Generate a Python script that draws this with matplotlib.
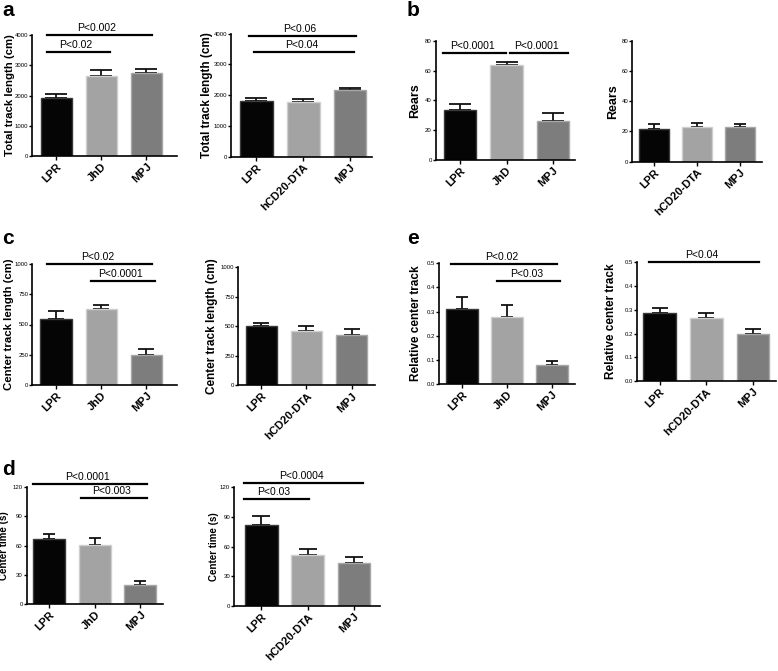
import matplotlib.pyplot as plt

plt.rcParams['font.family'] = ['Liberation Sans Narrow', 'Liberation Sans', 'DejaVu Sans']

# Data
cats_jhd = ["LPR", "JhD", "MPJ"]
cats_dta = ["LPR", "hCD20-DTA", "MPJ"]

total_jhd = [1930, 2645, 2755]
total_jhd_err = [130, 200, 135]
total_dta = [1810, 1770, 2170]
total_dta_err = [90, 105, 55]

rears_jhd = [33.5, 63.5, 26.4]
rears_jhd_err = [3.8, 2.3, 4.9]
rears_dta = [21.4, 23.1, 22.9]
rears_dta_err = [3.5, 2.7, 2.0]

center_len_jhd = [545, 625, 245]
center_len_jhd_err = [69, 36, 50]
center_len_dta = [505, 460, 426]
center_len_dta_err = [25, 42, 54]

rel_center_jhd = [0.311, 0.276, 0.080]
rel_center_jhd_err = [0.051, 0.050, 0.014]
rel_center_dta = [0.288, 0.264, 0.198]
rel_center_dta_err = [0.018, 0.021, 0.022]

center_time_jhd = [66.8, 60.9, 19.0]
center_time_jhd_err = [5.1, 7.2, 4.7]
center_time_dta = [81.6, 51.3, 43.2]
center_time_dta_err = [9.4, 6.0, 6.0]

# significance bars: (x start, x end, y, label)
sig_a1 = [(-0.21, 2.12, 4000, "P<0.002"), (-0.21, 1.19, 3440, "P<0.02")]
sig_a2 = [(-0.16, 2.13, 3930, "P<0.06"), (-0.04, 2.09, 3415, "P<0.04")]
sig_b1 = [(-0.37, 0.99, 72, "P<0.0001"), (1.07, 2.33, 72, "P<0.0001")]
sig_c1 = [(-0.21, 2.13, 1000, "P<0.02"), (0.76, 2.19, 862, "P<0.0001")]
sig_e1 = [(-0.24, 2.10, 0.497, "P<0.02"), (0.78, 2.18, 0.428, "P<0.03")]
sig_e2 = [(-0.23, 2.13, 0.5, "P<0.04")]
sig_d1 = [(-0.35, 2.14, 123.7, "P<0.0001"), (0.70, 2.14, 109, "P<0.003")]
sig_d2 = [(-0.37, 2.19, 124, "P<0.0004"), (-0.37, 1.02, 108.2, "P<0.03")]

W, H = 778, 671
fig = plt.figure(figsize=(W / 100, H / 100), dpi=100)

face = ["#050505", "#a3a3a3", "#7d7d7d"]
edge = ["#3a3a3a", "#cfcfcf", "#a8a8a8"]


def panel(box, xlim, cats, vals, errs, ylim, yticks, ylabel, sigs, lab_size, lab_x,
          tickfmt="{:g}", capsize=6):
    left, right, top, bottom = box
    ax = fig.add_axes([left / W, 1 - bottom / H, (right - left) / W, (bottom - top) / H])
    x = list(range(len(cats)))
    ax.bar(x, vals, width=0.7, color=face, edgecolor=edge, linewidth=1, zorder=2)
    ax.errorbar(x, vals, yerr=[[0] * len(vals), errs], fmt="none", ecolor="#111111",
                elinewidth=1.3, capsize=capsize, capthick=1.3, zorder=1)
    ax.set_xlim(*xlim)
    ax.set_ylim(*ylim)
    ax.set_yticks(yticks)
    ax.set_yticklabels([tickfmt.format(t) for t in yticks], fontsize=4.3)
    ax.set_xticks(x)
    ax.set_xticklabels(cats, rotation=45, ha="right", rotation_mode="anchor",
                       fontsize=8, fontweight="bold")
    ax.spines["top"].set_visible(False)
    ax.spines["right"].set_visible(False)
    ax.spines["left"].set_linewidth(1.2)
    ax.spines["bottom"].set_linewidth(1.2)
    ax.tick_params(axis="y", length=2.5, width=1, pad=0.3)
    ax.tick_params(axis="x", length=3, width=1, pad=1)
    ax.set_ylabel(ylabel, fontsize=lab_size, fontweight="bold", family="Liberation Sans")
    ax.yaxis.set_label_coords(lab_x, 0.5)
    for x0, x1, y, txt in sigs:
        ax.plot([x0, x1], [y, y], color="black", lw=1.6, clip_on=False)
        ax.annotate(txt, ((x0 + x1) / 2 - 0.05, y), xytext=(0, 1.5), textcoords="offset points",
                    ha="center", va="bottom", fontsize=7.5, annotation_clip=False)
    return ax


panel((32, 177, 35, 156), (-0.54, 2.68), cats_jhd, total_jhd, total_jhd_err,
      (0, 4000), [0, 1000, 2000, 3000, 4000], "Total track length (cm)", sig_a1, 8.2, -0.12,
      capsize=8)
panel((231, 372, 33.7, 156.7), (-0.54, 2.47), cats_dta, total_dta, total_dta_err,
      (0, 4000), [0, 1000, 2000, 3000, 4000], "Total track length (cm)", sig_a2, 8.5, -0.125,
      capsize=8)
panel((435.7, 575, 40.7, 160), (-0.53, 2.48), cats_jhd, rears_jhd, rears_jhd_err,
      (0, 80), [0, 20, 40, 60, 80], "Rears", sig_b1, 9, -0.108, capsize=8)
panel((632.3, 761.7, 40.7, 161.7), (-0.5, 2.5), cats_dta, rears_dta, rears_dta_err,
      (0, 80), [0, 20, 40, 60, 80], "Rears", [], 9, -0.10, capsize=4)
panel((32.3, 176.7, 264, 385), (-0.53, 2.67), cats_jhd, center_len_jhd, center_len_jhd_err,
      (0, 1000), [0, 250, 500, 750, 1000], "Center track length (cm)", sig_c1, 8.2, -0.125,
      capsize=6)
panel((238.3, 375, 267.3, 385.3), (-0.51, 2.52), cats_dta, center_len_dta, center_len_dta_err,
      (0, 1000), [0, 250, 500, 750, 1000], "Center track length (cm)", [], 8.5, -0.146,
      capsize=5.5)
panel((439.3, 575, 263.3, 384), (-0.5, 2.51), cats_jhd, rel_center_jhd, rel_center_jhd_err,
      (0, 0.5), [0, 0.1, 0.2, 0.3, 0.4, 0.5], "Relative center track", sig_e1, 8.5, -0.13,
      tickfmt="{:.1f}", capsize=4.5)
panel((636.7, 775.7, 262.3, 381), (-0.49, 2.49), cats_dta, rel_center_dta, rel_center_dta_err,
      (0, 0.5), [0, 0.1, 0.2, 0.3, 0.4, 0.5], "Relative center track", sig_e2, 8.5, -0.14,
      tickfmt="{:.1f}", capsize=5.5)
panel((26.7, 163.3, 487.3, 603.7), (-0.49, 2.5), cats_jhd, center_time_jhd, center_time_jhd_err,
      (0, 120), [0, 30, 60, 90, 120], "Center time (s)", sig_d1, 7, -0.13, capsize=4.5)
panel((234, 380, 487.3, 606), (-0.59, 2.56), cats_dta, center_time_dta, center_time_dta_err,
      (0, 120), [0, 30, 60, 90, 120], "Center time (s)", sig_d2, 7, -0.1, capsize=6.5)

# panel letters
for letter, px, py in [("a", 2, 16), ("b", 407, 16), ("c", 2, 244), ("e", 407, 244), ("d", 2, 475)]:
    fig.text(px / W, 1 - py / H, letter, fontsize=15, fontweight="bold",
             family="Liberation Sans", va="baseline")

fig.savefig("out.png", dpi=100)
